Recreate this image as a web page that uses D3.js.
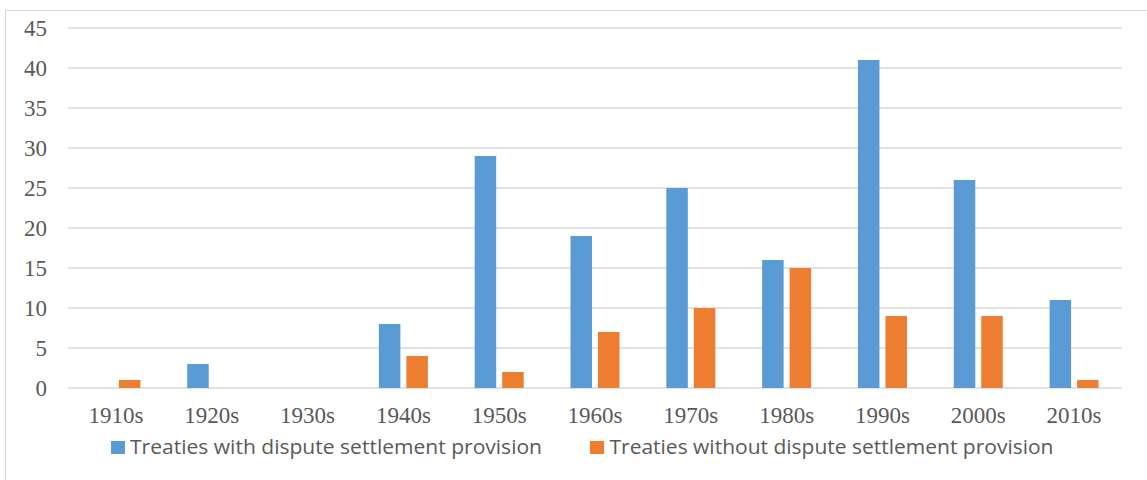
<!DOCTYPE html>
<html><head><meta charset="utf-8">
<script src="https://cdn.jsdelivr.net/npm/d3@7"></script>
<style>body{margin:0;background:#fff}svg{display:block}</style>
</head><body>
<script>
const categories = ["1910s","1920s","1930s","1940s","1950s","1960s","1970s","1980s","1990s","2000s","2010s"];
const withDispute = [0,3,0,8,29,19,25,16,41,26,11];
const withoutDispute = [1,0,0,4,2,7,10,15,9,9,1];
const seriesNames = ["Treaties with dispute settlement provision","Treaties without dispute settlement provision"];
const yTicks = [0,5,10,15,20,25,30,35,40,45];
const colors = ["#5B9BD5","#ED7D31"];

const W=1147,H=480;
const SERIF='"Liberation Serif","Times New Roman",serif';
const svg=d3.select("body").append("svg").attr("width",W).attr("height",H);
svg.append("rect").attr("x",5.5).attr("y",10.5).attr("width",1160).attr("height",480)
  .attr("fill","#fff").attr("stroke","#d9d9d9").attr("stroke-width",1);

const x=d3.scaleBand().domain(categories).range([68,1122]).paddingInner(0).paddingOuter(0);
const x1=d3.scaleBand().domain([0,1]).range([0,x.bandwidth()]).paddingInner(0.218).paddingOuter(0.851);
const y=d3.scaleLinear().domain([0,45]).range([388,28]);

const grid=svg.append("g");
grid.selectAll("line").data(yTicks).join("line")
  .attr("x1",68).attr("x2",1122).attr("y1",d=>y(d)).attr("y2",d=>y(d))
  .attr("stroke","#d9d9d9").attr("stroke-width",1.5);

const yAxis=d3.axisLeft(y).tickValues(yTicks).tickSize(0).tickPadding(0);
const gy=svg.append("g").attr("transform","translate(47,0)").call(yAxis);
gy.attr("font-family",SERIF).attr("font-size",23);
gy.select(".domain").remove();
gy.selectAll("text").style("font-family",SERIF).style("font-size","23px").attr("fill","#595959");

const series=[withDispute,withoutDispute];
series.forEach((vals,si)=>{
  svg.append("g").selectAll("rect").data(categories).join("rect")
    .attr("x",(c)=>x(c)+x1(si))
    .attr("width",x1.bandwidth())
    .attr("y",(c,i)=>y(vals[i]))
    .attr("height",(c,i)=>y(0)-y(vals[i]))
    .attr("fill",colors[si]);
});

const xAxis=d3.axisBottom(x).tickSize(0).tickPadding(0);
const gx=svg.append("g").attr("transform","translate(0,407)").call(xAxis);
gx.attr("font-family",SERIF).attr("font-size",23);
gx.select(".domain").remove();
gx.selectAll("text").style("font-family",SERIF).style("font-size","23px").attr("fill","#595959").attr("dy","0.71em");

const legX=[111,590], legTextX=[130,609.5], legLen=[412,444];
const leg=svg.append("g");
seriesNames.forEach((n,i)=>{
  leg.append("rect").attr("x",legX[i]).attr("y",441).attr("width",14).attr("height",13).attr("fill",colors[i]);
  leg.append("text").attr("x",legTextX[i]).attr("y",446.5).attr("dy","0.35em")
    .attr("font-family","'Open Sans','Noto Sans',sans-serif").attr("font-size",20)
    .attr("fill","#595959").attr("textLength",legLen[i]).attr("lengthAdjust","spacingAndGlyphs").text(n);
});
</script>
</body></html>
